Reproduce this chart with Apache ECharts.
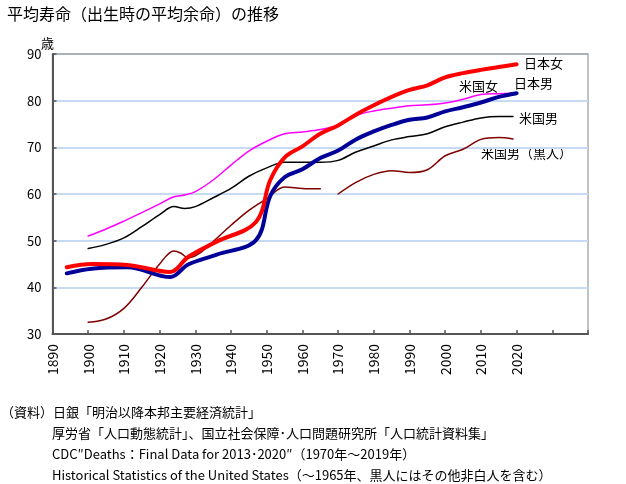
<!DOCTYPE html>
<html>
<head>
<meta charset="utf-8">
<script src="https://cdn.jsdelivr.net/npm/echarts@6/dist/echarts.min.js"></script>
<style>
  html, body { margin: 0; padding: 0; background: #fff; }
  #chart { width: 626px; height: 484px; }
</style>
</head>
<body>
<div id="chart"></div>
<script>
// 日本（厚労省・日銀）
const jpYears   = [1894, 1901, 1911, 1923, 1928, 1936, 1947, 1951, 1955, 1960, 1965, 1970, 1975, 1980, 1985, 1990, 1995, 2000, 2005, 2010, 2015, 2020];
const jpFemale  = [44.3, 45.0, 44.8, 43.3, 46.5, 49.8, 54.0, 63.0, 67.8, 70.2, 72.9, 74.7, 77.0, 79.0, 80.8, 82.3, 83.3, 85.0, 85.9, 86.6, 87.2, 87.8];
const jpMale    = [43.0, 44.0, 44.3, 42.2, 44.9, 47.0, 50.1, 59.6, 63.6, 65.3, 67.7, 69.3, 71.7, 73.4, 74.8, 75.9, 76.4, 77.7, 78.6, 79.6, 80.8, 81.6];

// 米国
const usYears   = [1900, 1905, 1910, 1915, 1920, 1924, 1927, 1930, 1935, 1940, 1945, 1950, 1955, 1960, 1965, 1970, 1975, 1980, 1985, 1990, 1995, 2000, 2005, 2010, 2015, 2019];
const usFemale  = [51.0, 52.5, 54.2, 56.0, 57.9, 59.4, 59.8, 60.5, 63.0, 66.2, 69.2, 71.3, 72.9, 73.3, 73.8, 74.8, 76.8, 77.8, 78.4, 78.9, 79.1, 79.5, 80.3, 81.3, 81.5, 81.6];
const usMale    = [48.3, 49.2, 50.6, 53.0, 55.6, 57.3, 56.9, 57.3, 59.2, 61.2, 63.8, 65.6, 66.8, 66.8, 66.8, 67.2, 69.0, 70.3, 71.6, 72.3, 72.9, 74.4, 75.4, 76.3, 76.6, 76.6];

// 米国男（黒人）: 1965年までは他非白人を含む。1965〜1970は欠測
const usBlackYears = [1900, 1905, 1910, 1915, 1920, 1924, 1926, 1928, 1931, 1935, 1940, 1945, 1950, 1955, 1960, 1965, 1967, 1970, 1975, 1980, 1985, 1990, 1995, 2000, 2005, 2010, 2015, 2019];
const usBlack      = [32.5, 33.2, 35.5, 40.0, 45.0, 47.8, 47.3, 46.3, 47.2, 49.8, 53.3, 56.5, 59.0, 61.5, 61.2, 61.1, null, 60.0, 62.5, 64.2, 65.0, 64.6, 65.2, 68.2, 69.6, 71.7, 72.1, 71.8];

const xTicksMax = 2020;

function pairs(years, vals) {
  return years.map((y, i) => [y, vals[i]]);
}

const font = '"Noto Sans CJK JP", "Noto Sans", sans-serif';
const chart = echarts.init(document.getElementById('chart'));

function line(name, years, vals, color, width) {
  return {
    name: name,
    type: 'line',
    data: pairs(years, vals),
    smooth: 0.35,
    showSymbol: false,
    connectNulls: false,
    lineStyle: { color: color, width: width, cap: 'round' },
    itemStyle: { color: color },
    emphasis: { disabled: true }
  };
}

function label(text, x, y) {
  return {
    type: 'text',
    x: x, y: y,
    style: { text: text, font: '13px ' + font, fill: '#000', verticalAlign: 'middle' }
  };
}

chart.setOption({
  animation: false,
  textStyle: { fontFamily: font },
  grid: {
    left: 52.5, right: 38, top: 54, bottom: 150,
    show: true, borderColor: '#a9b0b7', borderWidth: 1.5
  },
  xAxis: {
    type: 'value',
    min: 1890, max: 2040, interval: 10,
    axisLine: { show: true, lineStyle: { color: '#555', width: 2 } },
    axisTick: { show: true, inside: true, length: 4, lineStyle: { color: '#555', width: 1.5 } },
    splitLine: { show: false },
    axisLabel: {
      rotate: 90, fontSize: 14, color: '#000', margin: 10,
      formatter: v => (v <= xTicksMax ? String(v) : '')
    }
  },
  yAxis: {
    type: 'value',
    min: 30, max: 90, interval: 10,
    axisLine: { show: true, lineStyle: { color: '#555', width: 2 } },
    axisTick: { show: true, inside: true, length: 4, lineStyle: { color: '#555', width: 1.5 } },
    splitLine: {
      show: true,
      lineStyle: {
        color: ['#555', '#c6dbf3', '#c6dbf3', '#c6dbf3', '#c6dbf3', '#c6dbf3', '#a9b0b7'],
        width: 2
      }
    },
    axisLabel: { fontSize: 13, color: '#000', margin: 11 }
  },
  series: [
    line('米国女', usYears, usFemale, '#ff00ff', 1.5),
    line('米国男', usYears, usMale, '#000000', 1.5),
    line('米国男（黒人）', usBlackYears, usBlack, '#800000', 1.5),
    line('日本男', jpYears, jpMale, '#000099', 4),
    line('日本女', jpYears, jpFemale, '#ff0000', 4)
  ],
  graphic: [
    {
      type: 'text', x: 7, y: 14,
      style: { text: '平均寿命（出生時の平均余命）の推移', font: '16px ' + font, fill: '#000', verticalAlign: 'middle' }
    },
    label('歳', 41, 43),
    label('日本女', 524, 63),
    label('日本男', 514, 83),
    label('米国女', 459, 86),
    label('米国男', 519, 118),
    label('米国男（黒人）', 481, 153),
    label('（資料）日銀「明治以降本邦主要経済統計」', 1, 412),
    label('厚労省「人口動態統計」、国立社会保障･人口問題研究所「人口統計資料集」', 52, 433),
    label('CDC″Deaths：Final Data for 2013･2020″（1970年～2019年）', 52, 454),
    label('Historical Statistics of the United States（～1965年、黒人にはその他非白人を含む）', 52, 475)
  ]
});
</script>
</body>
</html>
